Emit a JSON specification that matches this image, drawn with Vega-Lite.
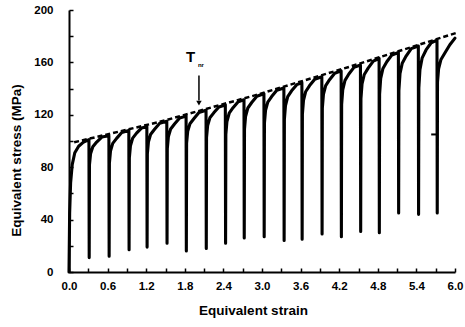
{
  "$schema": "https://vega.github.io/schema/vega-lite/v6.json",
  "width": 386,
  "height": 262,
  "autosize": {"type": "none"},
  "padding": {"left": 69, "top": 10, "right": 10, "bottom": 55},
  "background": "white",
  "config": {
    "view": {"stroke": null},
    "font": "Liberation Sans",
    "axis": {
      "grid": false,
      "domainColor": "black",
      "domainWidth": 2,
      "tickColor": "black",
      "tickWidth": 1.5,
      "tickSize": -4,
      "labelColor": "black",
      "titleColor": "black",
      "labelFont": "Liberation Sans",
      "labelFontWeight": "bold",
      "labelFontSize": 11.5,
      "titleFont": "Liberation Sans",
      "titleFontWeight": "bold",
      "titleFontSize": 13.5,
      "labelFlush": false
    }
  },
  "datasets": {
    "curve": [
      {"strain": 0.0, "stress": 0},
      {"strain": 0.01, "stress": 45},
      {"strain": 0.025, "stress": 68},
      {"strain": 0.05, "stress": 82},
      {"strain": 0.09, "stress": 91},
      {"strain": 0.15, "stress": 96},
      {"strain": 0.22, "stress": 99},
      {"strain": 0.31, "stress": 101},
      {"strain": 0.314, "stress": 11},
      {"strain": 0.318, "stress": 81.8},
      {"strain": 0.335, "stress": 90.2},
      {"strain": 0.37, "stress": 95.6},
      {"strain": 0.43, "stress": 99.2},
      {"strain": 0.51, "stress": 103},
      {"strain": 0.62, "stress": 104},
      {"strain": 0.624, "stress": 12},
      {"strain": 0.628, "stress": 83.2},
      {"strain": 0.645, "stress": 92.3},
      {"strain": 0.68, "stress": 98.2},
      {"strain": 0.74, "stress": 102},
      {"strain": 0.82, "stress": 106.5},
      {"strain": 0.93, "stress": 108},
      {"strain": 0.934, "stress": 17},
      {"strain": 0.938, "stress": 87.2},
      {"strain": 0.955, "stress": 96.3},
      {"strain": 0.99, "stress": 102.2},
      {"strain": 1.05, "stress": 106},
      {"strain": 1.13, "stress": 110},
      {"strain": 1.21, "stress": 111},
      {"strain": 1.214, "stress": 19},
      {"strain": 1.218, "stress": 90.2},
      {"strain": 1.235, "stress": 99.3},
      {"strain": 1.27, "stress": 105.2},
      {"strain": 1.33, "stress": 109},
      {"strain": 1.41, "stress": 113.5},
      {"strain": 1.52, "stress": 115},
      {"strain": 1.524, "stress": 22},
      {"strain": 1.528, "stress": 94.2},
      {"strain": 1.545, "stress": 103.3},
      {"strain": 1.58, "stress": 109.2},
      {"strain": 1.64, "stress": 113},
      {"strain": 1.72, "stress": 117.5},
      {"strain": 1.82, "stress": 119},
      {"strain": 1.824, "stress": 16},
      {"strain": 1.828, "stress": 98.2},
      {"strain": 1.845, "stress": 107.3},
      {"strain": 1.88, "stress": 113.2},
      {"strain": 1.94, "stress": 117},
      {"strain": 2.02, "stress": 121.8},
      {"strain": 2.13, "stress": 123.5},
      {"strain": 2.134, "stress": 18},
      {"strain": 2.138, "stress": 102.7},
      {"strain": 2.155, "stress": 111.8},
      {"strain": 2.19, "stress": 117.7},
      {"strain": 2.25, "stress": 121.5},
      {"strain": 2.33, "stress": 126},
      {"strain": 2.43, "stress": 127.5},
      {"strain": 2.434, "stress": 22},
      {"strain": 2.438, "stress": 105.1},
      {"strain": 2.455, "stress": 114.9},
      {"strain": 2.49, "stress": 121.2},
      {"strain": 2.55, "stress": 125.4},
      {"strain": 2.63, "stress": 130},
      {"strain": 2.72, "stress": 131.5},
      {"strain": 2.724, "stress": 26},
      {"strain": 2.728, "stress": 109.1},
      {"strain": 2.745, "stress": 118.9},
      {"strain": 2.78, "stress": 125.2},
      {"strain": 2.84, "stress": 129.4},
      {"strain": 2.92, "stress": 134.2},
      {"strain": 3.03, "stress": 136},
      {"strain": 3.034, "stress": 27},
      {"strain": 3.038, "stress": 113.6},
      {"strain": 3.055, "stress": 123.4},
      {"strain": 3.09, "stress": 129.7},
      {"strain": 3.15, "stress": 133.9},
      {"strain": 3.23, "stress": 138.7},
      {"strain": 3.34, "stress": 140.5},
      {"strain": 3.344, "stress": 24},
      {"strain": 3.348, "stress": 116.5},
      {"strain": 3.365, "stress": 127},
      {"strain": 3.4, "stress": 133.8},
      {"strain": 3.46, "stress": 138.3},
      {"strain": 3.54, "stress": 143},
      {"strain": 3.62, "stress": 144.5},
      {"strain": 3.624, "stress": 25},
      {"strain": 3.628, "stress": 120.5},
      {"strain": 3.645, "stress": 131},
      {"strain": 3.68, "stress": 137.8},
      {"strain": 3.74, "stress": 142.3},
      {"strain": 3.82, "stress": 147.2},
      {"strain": 3.93, "stress": 149},
      {"strain": 3.934, "stress": 29},
      {"strain": 3.938, "stress": 125},
      {"strain": 3.955, "stress": 135.5},
      {"strain": 3.99, "stress": 142.3},
      {"strain": 4.05, "stress": 146.8},
      {"strain": 4.13, "stress": 151.7},
      {"strain": 4.23, "stress": 153.5},
      {"strain": 4.234, "stress": 27},
      {"strain": 4.238, "stress": 127.9},
      {"strain": 4.255, "stress": 139.1},
      {"strain": 4.29, "stress": 146.3},
      {"strain": 4.35, "stress": 151.1},
      {"strain": 4.43, "stress": 156.2},
      {"strain": 4.53, "stress": 158},
      {"strain": 4.534, "stress": 31},
      {"strain": 4.538, "stress": 132.4},
      {"strain": 4.555, "stress": 143.6},
      {"strain": 4.59, "stress": 150.8},
      {"strain": 4.65, "stress": 155.6},
      {"strain": 4.73, "stress": 161},
      {"strain": 4.82, "stress": 163},
      {"strain": 4.824, "stress": 30},
      {"strain": 4.828, "stress": 135.8},
      {"strain": 4.845, "stress": 147.7},
      {"strain": 4.88, "stress": 155.4},
      {"strain": 4.94, "stress": 160.5},
      {"strain": 5.02, "stress": 165.7},
      {"strain": 5.12, "stress": 167.5},
      {"strain": 5.124, "stress": 45},
      {"strain": 5.128, "stress": 138.7},
      {"strain": 5.145, "stress": 151.3},
      {"strain": 5.18, "stress": 159.4},
      {"strain": 5.24, "stress": 164.8},
      {"strain": 5.32, "stress": 170.5},
      {"strain": 5.43, "stress": 172.5},
      {"strain": 5.434, "stress": 44},
      {"strain": 5.438, "stress": 140.5},
      {"strain": 5.455, "stress": 154.5},
      {"strain": 5.49, "stress": 163.5},
      {"strain": 5.55, "stress": 169.5},
      {"strain": 5.63, "stress": 175},
      {"strain": 5.72, "stress": 177},
      {"strain": 5.724, "stress": 45},
      {"strain": 5.728, "stress": 145},
      {"strain": 5.745, "stress": 155},
      {"strain": 5.78, "stress": 162},
      {"strain": 5.84, "stress": 167},
      {"strain": 5.92, "stress": 173.5},
      {"strain": 6.0, "stress": 178.5}
    ],
    "envelope": [
      {"strain": 0.08, "stress": 99},
      {"strain": 1.4, "stress": 114.5},
      {"strain": 2.9, "stress": 135},
      {"strain": 4.35, "stress": 156.5},
      {"strain": 6.05, "stress": 183}
    ],
    "mark": [
      {"strain": 5.63, "strain2": 5.71, "stress": 105}
    ],
    "label": [
      {"strain": 1.89, "stress": 164, "text": "T"}
    ],
    "sublabel": [
      {"strain": 2.05, "stress": 158, "text": "nr"}
    ],
    "arrow": [
      {"strain": 2.02, "stress": 150, "stress2": 131}
    ],
    "arrowhead": [
      {"strain": 2.02, "stress": 129}
    ]
  },
  "layer": [
    {
      "data": {"name": "curve"},
      "mark": {"type": "line", "color": "black", "strokeWidth": 3.1, "strokeJoin": "round", "strokeCap": "round"},
      "encoding": {
        "x": {
          "field": "strain", "type": "quantitative",
          "scale": {"domain": [0, 6], "nice": false},
          "axis": {
            "title": "Equivalent strain",
            "values": [0, 0.3, 0.6, 0.9, 1.2, 1.5, 1.8, 2.1, 2.4, 2.7, 3.0, 3.3, 3.6, 3.9, 4.2, 4.5, 4.8, 5.1, 5.4, 5.7, 6.0],
            "tickCount": 30,
            "labelExpr": "round(datum.value * 10) % 6 == 0 ? format(datum.value, '.1f') : ''",
            "labelOverlap": false,
            "labelPadding": 12,
            "titlePadding": 12,
            "titleX": 184
          }
        },
        "y": {
          "field": "stress", "type": "quantitative",
          "scale": {"domain": [0, 200], "nice": false},
          "axis": {
            "title": "Equivalent stress (MPa)",
            "values": [0, 20, 40, 60, 80, 100, 120, 140, 160, 180, 200],
            "tickCount": 20,
            "labelExpr": "datum.value % 40 == 0 ? datum.label : ''",
            "labelOverlap": false,
            "labelPadding": 20,
            "titlePadding": 10,
            "titleY": 150
          }
        }
      }
    },
    {
      "data": {"name": "envelope"},
      "mark": {"type": "line", "color": "black", "strokeWidth": 2.5, "strokeDash": [5, 3]},
      "encoding": {
        "x": {"field": "strain", "type": "quantitative"},
        "y": {"field": "stress", "type": "quantitative"}
      }
    },
    {
      "data": {"name": "mark"},
      "mark": {"type": "rule", "color": "black", "strokeWidth": 2},
      "encoding": {
        "x": {"field": "strain", "type": "quantitative"},
        "x2": {"field": "strain2"},
        "y": {"field": "stress", "type": "quantitative"}
      }
    },
    {
      "data": {"name": "arrow"},
      "mark": {"type": "rule", "color": "black", "strokeWidth": 1.5},
      "encoding": {
        "x": {"field": "strain", "type": "quantitative"},
        "y": {"field": "stress", "type": "quantitative"},
        "y2": {"field": "stress2"}
      }
    },
    {
      "data": {"name": "arrowhead"},
      "mark": {"type": "point", "shape": "triangle-down", "filled": true, "color": "black", "size": 30, "opacity": 1},
      "encoding": {
        "x": {"field": "strain", "type": "quantitative"},
        "y": {"field": "stress", "type": "quantitative"}
      }
    },
    {
      "data": {"name": "label"},
      "mark": {"type": "text", "font": "Liberation Sans", "fontSize": 15, "fontWeight": "bold", "color": "black"},
      "encoding": {
        "x": {"field": "strain", "type": "quantitative"},
        "y": {"field": "stress", "type": "quantitative"},
        "text": {"field": "text"}
      }
    },
    {
      "data": {"name": "sublabel"},
      "mark": {"type": "text", "font": "Liberation Sans", "fontSize": 6, "fontWeight": "bold", "color": "black"},
      "encoding": {
        "x": {"field": "strain", "type": "quantitative"},
        "y": {"field": "stress", "type": "quantitative"},
        "text": {"field": "text"}
      }
    }
  ]
}
